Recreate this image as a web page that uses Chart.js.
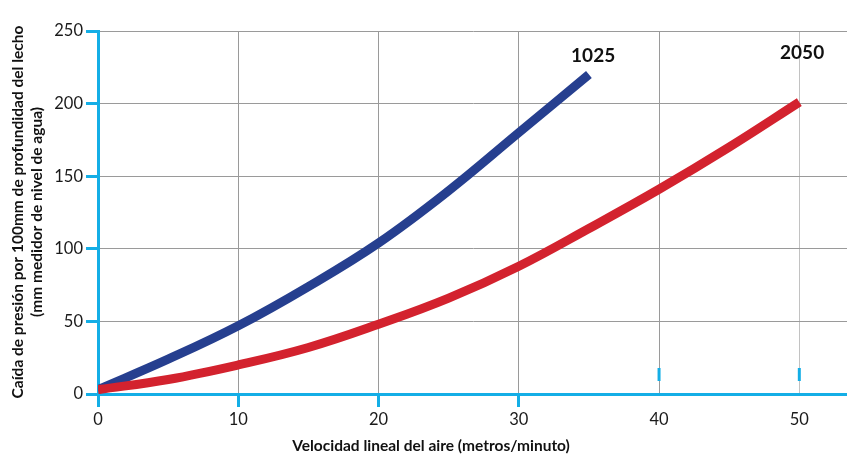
<!DOCTYPE html>
<html>
<head>
<meta charset="utf-8">
<script src="https://cdn.jsdelivr.net/npm/chart.js@4.4.1/dist/chart.umd.min.js"></script>
<style>
    html, body { margin: 0; padding: 0; background: #fff; }
    #wrap { width: 847px; height: 455px; position: relative; }
</style>
</head>
<body>
<div id="wrap"><canvas id="chartPressure"></canvas></div>
<script>
// velocity (m/min)
const xBlue = [0, 5, 10, 15, 20, 25, 30, 35];
const yBlue = [3, 24, 47, 74, 104, 140, 180, 220];
const xRed = [0, 5, 10, 15, 20, 25, 30, 35, 40, 45, 50];
const yRed = [3, 10, 20, 32, 48, 66, 88, 114, 141, 170, 201];
const seriesNames = ['1025', '2050'];
const xTicks = [0, 10, 20, 30, 40, 50];
const yTicks = [0, 50, 100, 150, 200, 250];
const xTitle = 'Velocidad lineal del aire (metros/minuto)';
const yTitle = ['Caída de presión por 100mm de profundidad del lecho', '(mm medidor de nivel de agua)'];

const cyan = '#14aee6';
const fontFam = 'Lato, "Open Sans", sans-serif';

function toPoints(xs, ys) {
    let pts = [];
    for (let i = 0; i < xs.length; i++) {
        pts.push({ x: xs[i], y: ys[i] });
    }
    return pts;
}

// extra bits: curve labels, axis titles, the small raised ticks at 40 and 50
const extrasPlugin = {
    id: 'extras',
    afterDraw(chart) {
        const ctx = chart.ctx;
        const xs = chart.scales.x;
        const ys = chart.scales.y;
        ctx.save();
        ctx.fillStyle = '#111';
        ctx.textAlign = 'center';
        ctx.textBaseline = 'middle';

        ctx.font = 'bold 19px ' + fontFam;
        ctx.fillText(seriesNames[0], xs.getPixelForValue(35.3), ys.getPixelForValue(233));
        ctx.fillText(seriesNames[1], xs.getPixelForValue(50.2), ys.getPixelForValue(235));

        ctx.font = 'bold 15.5px ' + fontFam;
        ctx.fillText(xTitle, 431, 446);

        ctx.font = 'bold 15.5px ' + fontFam;
        ctx.translate(0, 212);
        ctx.rotate(-Math.PI / 2);
        ctx.fillText(yTitle[0], 0, 18);
        ctx.fillText(yTitle[1], 0, 37);
        ctx.restore();

        ctx.save();
        ctx.strokeStyle = cyan;
        ctx.lineWidth = 3;
        [40, 50].forEach(function (v) {
            const px = xs.getPixelForValue(v);
            ctx.beginPath();
            ctx.moveTo(px, ys.bottom - 26);
            ctx.lineTo(px, ys.bottom - 13);
            ctx.stroke();
        });
        ctx.restore();
    }
};

function initChart() {
    const canvas = document.getElementById('chartPressure');
    new Chart(canvas, {
        type: 'line',
        data: {
            datasets: [
                {
                    label: seriesNames[0],
                    data: toPoints(xBlue, yBlue),
                    borderColor: '#263f8f',
                    borderWidth: 9,
                    borderCapStyle: 'butt',
                    pointRadius: 0,
                    tension: 0.4,
                    order: 1
                },
                {
                    label: seriesNames[1],
                    data: toPoints(xRed, yRed),
                    borderColor: '#d3222e',
                    borderWidth: 9,
                    borderCapStyle: 'butt',
                    pointRadius: 0,
                    tension: 0.4,
                    order: 0
                }
            ]
        },
        options: {
            responsive: true,
            maintainAspectRatio: false,
            animation: false,
            layout: { padding: { left: 0, top: 31, right: 0, bottom: 0 } },
            plugins: {
                legend: { display: false },
                tooltip: { enabled: false }
            },
            scales: {
                x: {
                    type: 'linear',
                    min: 0,
                    max: 53.4,
                    afterBuildTicks: function (scale) {
                        scale.ticks = xTicks.map(v => ({ value: v }));
                    },
                    afterFit: function (scale) {
                        scale.height = 61;
                    },
                    border: { color: cyan, width: 3 },
                    grid: {
                        color: c => c.tick && c.tick.value === 50 ? '#c2c2c2' : '#9a9a9a',
                        lineWidth: 1,
                        tickLength: 13,
                        tickWidth: 3,
                        tickColor: c => c.tick && c.tick.value <= 30 ? cyan : 'rgba(0,0,0,0)'
                    },
                    ticks: {
                        color: '#1a1a1a',
                        font: { family: fontFam, size: 16.5 },
                        padding: 3,
                        maxRotation: 0
                    }
                },
                y: {
                    min: 0,
                    max: 250,
                    afterBuildTicks: function (scale) {
                        scale.ticks = yTicks.map(v => ({ value: v }));
                    },
                    afterFit: function (scale) {
                        scale.width = 98;
                    },
                    border: { color: cyan, width: 3 },
                    grid: {
                        color: '#9a9a9a',
                        lineWidth: 1,
                        tickLength: 12,
                        tickWidth: 3,
                        tickColor: cyan
                    },
                    ticks: {
                        color: '#1a1a1a',
                        font: { family: fontFam, size: 16.5 },
                        padding: 3
                    }
                }
            }
        },
        plugins: [extrasPlugin]
    });
}

window.addEventListener('load', initChart);
</script>
</body>
</html>
